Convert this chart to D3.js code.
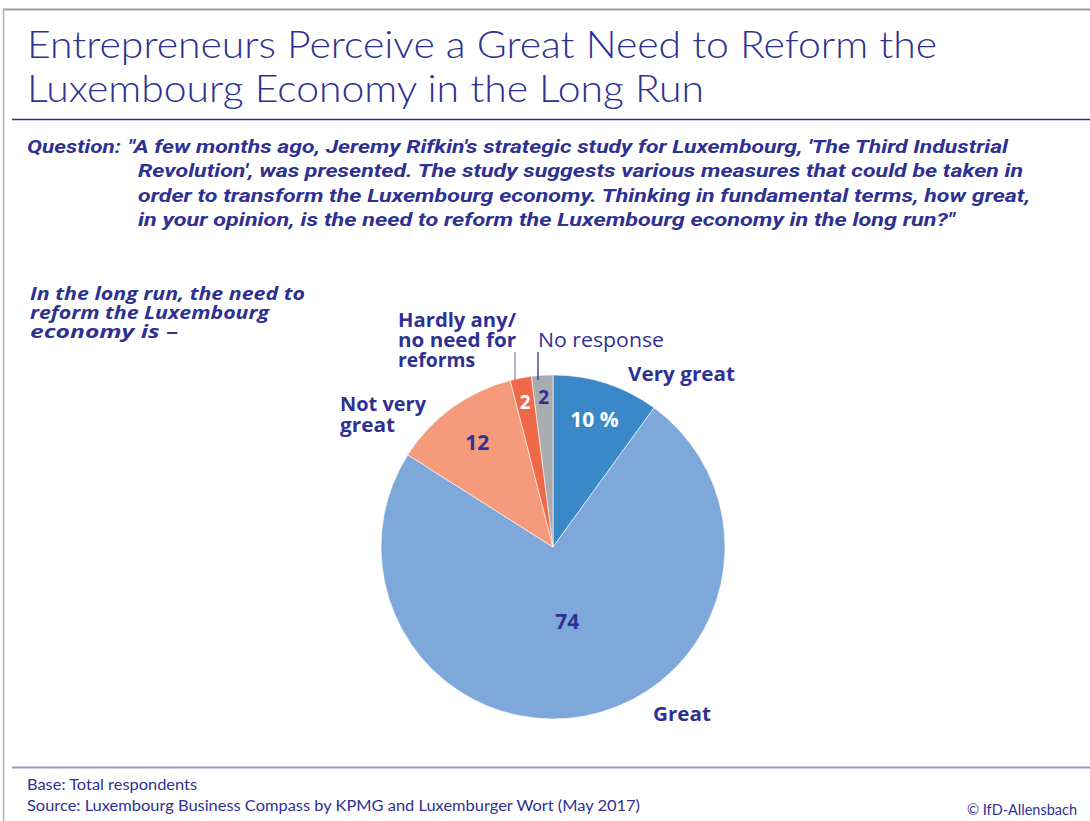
<!DOCTYPE html>
<html>
<head>
<meta charset="utf-8">
<script src="https://cdn.jsdelivr.net/npm/d3@7"></script>
<style>
  html, body { margin: 0; padding: 0; background: #fff; }
  svg { display: block; }
</style>
</head>
<body>
<svg id="chart" width="1090" height="821"></svg>
<script>
// Survey answers, clockwise from 12 o'clock
const categories = ["Very great", "Great", "Not very great", "Hardly any/ no need for reforms", "No response"];
const values = [10, 74, 12, 2, 2];
const valueLabels = ["10 %", "74", "12", "2", "2"];
const sliceColors = ["#3b88c9", "#7ea8da", "#f59a7b", "#ef6949", "#a9abaf"];
const valueColors = ["#ffffff", "#2e3192", "#2e3192", "#ffffff", "#2e3192"];

const navy = "#2e3192";
const svg = d3.select("#chart");

// fit a text run to a set width (the house typeface is wider than the fallbacks)
function fit(sel, width) {
  sel.attr("textLength", width).attr("lengthAdjust", "spacingAndGlyphs");
  return sel;
}

// page frame
svg.append("line").attr("x1", 3).attr("x2", 1090).attr("y1", 9.5).attr("y2", 9.5)
  .attr("stroke", "#a0a0a0").attr("stroke-width", 2);
svg.append("line").attr("x1", 3.5).attr("x2", 3.5).attr("y1", 9).attr("y2", 821)
  .attr("stroke", "#b0b0b0").attr("stroke-width", 1.5);

// title
const titleLines = [
  { t: "Entrepreneurs Perceive a Great Need to Reform the", y: 58, w: 910 },
  { t: "Luxembourg Economy in the Long Run", y: 102, w: 677 }
];
titleLines.forEach(l => {
  fit(svg.append("text").attr("x", 27).attr("y", l.y).attr("fill", navy)
    .style("font-family", "Lato, 'Open Sans', sans-serif").style("font-weight", 300)
    .style("font-size", "38px").text(l.t), l.w);
});
svg.append("line").attr("x1", 12).attr("x2", 1090).attr("y1", 119.5).attr("y2", 119.5)
  .attr("stroke", navy).attr("stroke-width", 1.5);

// question
const qLines = [
  { t: "Question:", x: 27, w: 94, row: 0 },
  { t: "\"A few months ago, Jeremy Rifkin's strategic study for Luxembourg, 'The Third Industrial", x: 128, w: 880, row: 0 },
  { t: "Revolution', was presented. The study suggests various measures that could be taken in", x: 138, w: 885, row: 1 },
  { t: "order to transform the Luxembourg economy. Thinking in fundamental terms, how great,", x: 138, w: 892, row: 2 },
  { t: "in your opinion, is the need to reform the Luxembourg economy in the long run?\"", x: 138, w: 817, row: 3 }
];
qLines.forEach(l => {
  fit(svg.append("text").attr("x", l.x).attr("y", 153 + l.row * 24.3).attr("fill", navy)
    .style("font-family", "Roboto, sans-serif").style("font-weight", 700)
    .style("font-style", "italic").style("font-size", "19px").text(l.t), l.w);
});

// lead-in
const leadLines = [
  { t: "In the long run, the need to", w: 275 },
  { t: "reform the Luxembourg", w: 239 },
  { t: "economy is \u2013", w: 148 }
];
leadLines.forEach((l, i) => {
  fit(svg.append("text").attr("x", 30).attr("y", 300 + i * 19).attr("fill", navy)
    .style("font-family", "'Open Sans', sans-serif").style("font-weight", 700)
    .style("font-style", "italic").style("font-size", "18.5px").text(l.t), l.w);
});

// pie
const cx = 553, cy = 547, r = 172;
const pie = d3.pie().sort(null).value(d => d)(values);
const arc = d3.arc().innerRadius(0).outerRadius(r);
const g = svg.append("g").attr("transform", `translate(${cx},${cy})`);
g.selectAll("path").data(pie).join("path")
  .attr("d", arc)
  .attr("fill", (d, i) => sliceColors[i])
  .attr("stroke", "#ffffff").attr("stroke-width", 0.6);

// value labels placed along each slice's bisector
const labelRadius = [0.78, 0.44, 0.75, 0.86, 0.87];
g.selectAll("text.val").data(pie).join("text")
  .attr("class", "val")
  .attr("transform", (d, i) => {
    const c = d3.arc().innerRadius(r * labelRadius[i]).outerRadius(r * labelRadius[i]).centroid(d);
    return `translate(${c[0]},${c[1]})`;
  })
  .attr("text-anchor", "middle").attr("dy", "0.36em")
  .attr("fill", (d, i) => valueColors[i])
  .style("font-family", "'Open Sans', sans-serif").style("font-weight", 700)
  .style("font-size", (d, i) => i >= 3 ? "19px" : "21px")
  .text((d, i) => valueLabels[i]);

// category labels
function catLabel(lines, x, y, weight, lh) {
  lines.forEach((l, i) => {
    fit(svg.append("text").attr("x", x).attr("y", y + i * lh).attr("fill", navy)
      .style("font-family", "'Open Sans', sans-serif").style("font-weight", weight)
      .style("font-size", "19.5px").text(l.t), l.w);
  });
}
catLabel([{ t: "Very great", w: 107 }], 628, 381, 700, 20);
catLabel([{ t: "Great", w: 58 }], 653, 721, 700, 20);
catLabel([{ t: "Not very", w: 86 }, { t: "great", w: 55 }], 340, 411, 700, 21);
catLabel([{ t: "Hardly any/", w: 118 }, { t: "no need for", w: 118 }, { t: "reforms", w: 77 }], 398, 327, 700, 20);
catLabel([{ t: "No response", w: 126 }], 538, 347, 400, 20);

// leader lines for the two small slices
const leadX = [515, 538];
const leadColor = ["#8a8cc0", navy];
leadX.forEach((x, j) => {
  svg.append("line").attr("x1", x).attr("x2", x)
    .attr("y1", 352).attr("y2", 380)
    .attr("stroke", leadColor[j]).attr("stroke-width", 1.3);
});

// footer
svg.append("line").attr("x1", 12).attr("x2", 1090).attr("y1", 767.5).attr("y2", 767.5)
  .attr("stroke", "#9b99cf").attr("stroke-width", 2);
const footStyle = s => s.attr("fill", navy)
  .style("font-family", "Lato, 'Open Sans', sans-serif").style("font-size", "14.5px");
fit(footStyle(svg.append("text").attr("x", 27).attr("y", 790)).text("Base: Total respondents"), 170);
fit(footStyle(svg.append("text").attr("x", 27).attr("y", 811))
  .text("Source: Luxembourg Business Compass by KPMG and Luxemburger Wort (May 2017)"), 613);
fit(footStyle(svg.append("text").attr("x", 967).attr("y", 815)).text("\u00a9 IfD-Allensbach"), 110);
</script>
</body>
</html>
